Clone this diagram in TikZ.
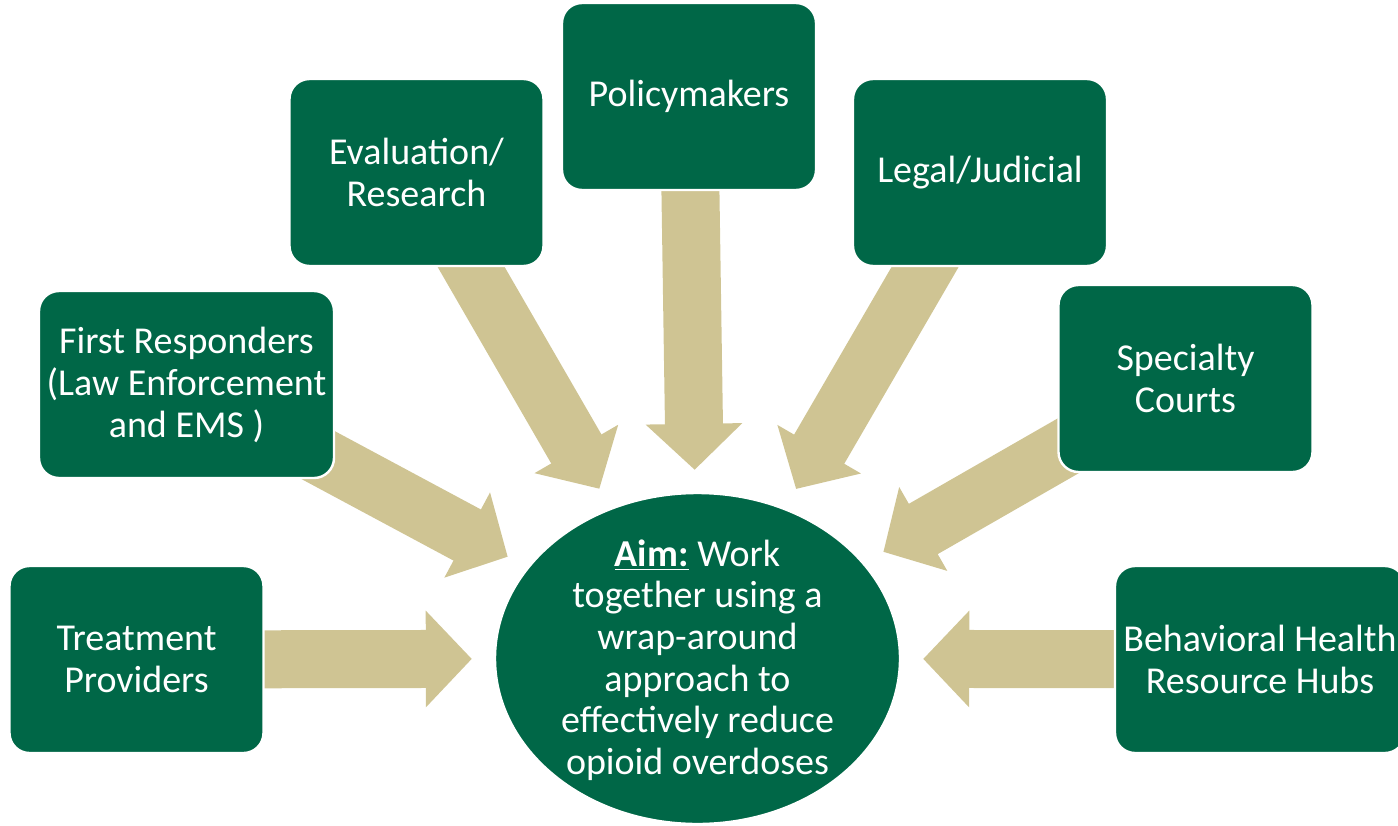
\documentclass[tikz,border=0pt]{standalone}
\usepackage{fontspec}
\setmainfont{Carlito}
\usetikzlibrary{shapes.geometric,arrows.meta,backgrounds}
\definecolor{usfgreen}{RGB}{0,103,71}
\definecolor{usfgold}{RGB}{207,196,147}
\tikzset{
  stake/.style={fill=usfgreen, draw=white, line width=1.2pt, rounded corners=10pt,
    text=white, align=center, inner sep=2pt, minimum width=127pt, minimum height=93.5pt,
    font=\fontsize{19}{21}\selectfont},
  aimoval/.style={ellipse, fill=usfgreen, draw=white, line width=1.2pt, inner sep=0pt,
    minimum width=202.5pt, minimum height=165.5pt},
  flow/.style={draw=usfgold, line width=29pt, -{Triangle[length=23pt,width=47pt]}, shorten >=11pt}
}

\begin{document}
\begin{tikzpicture}[x=0.5pt,y=-0.5pt]
  \useasboundingbox (0,0) rectangle (1398,825);
  % centre of the picture
  \node[aimoval] (aim) at (697.5,658.5) {};
  \node[text=white, align=center, inner sep=0pt, font=\fontsize{19}{20.8}\selectfont] (aimtext) at (697.5,660)
    {\underline{\textbf{Aim:}} Work\\together using a\\wrap-around\\approach to\\effectively reduce\\opioid overdoses};
  % partners
  \node[stake] (tp) at (136.5,659.5) {Treatment\\Providers};
  \node[stake, minimum width=147.5pt] (fr) at (186.5,384.5) {First Responders\\(Law Enforcement\\and EMS )};
  \node[stake] (er) at (416.5,172.5) {Evaluation/\\Research};
  \node[stake] (pm) at (689,96.5) {Policymakers};
  \node[stake] (lj) at (980,172.5) {Legal/Judicial};
  \node[stake] (sc) at (1185.5,378.5) {Specialty\\Courts};
  \node[stake, minimum width=145pt] (bh) at (1260,659.5) {Behavioral Health\\Resource Hubs};
  % arrows behind the boxes
  \begin{scope}[on background layer]
    \foreach \src in {tp,fr,er,pm,lj,sc,bh}
      \draw[flow] (\src.center) -- (aim);
  \end{scope}
\end{tikzpicture}
\end{document}
